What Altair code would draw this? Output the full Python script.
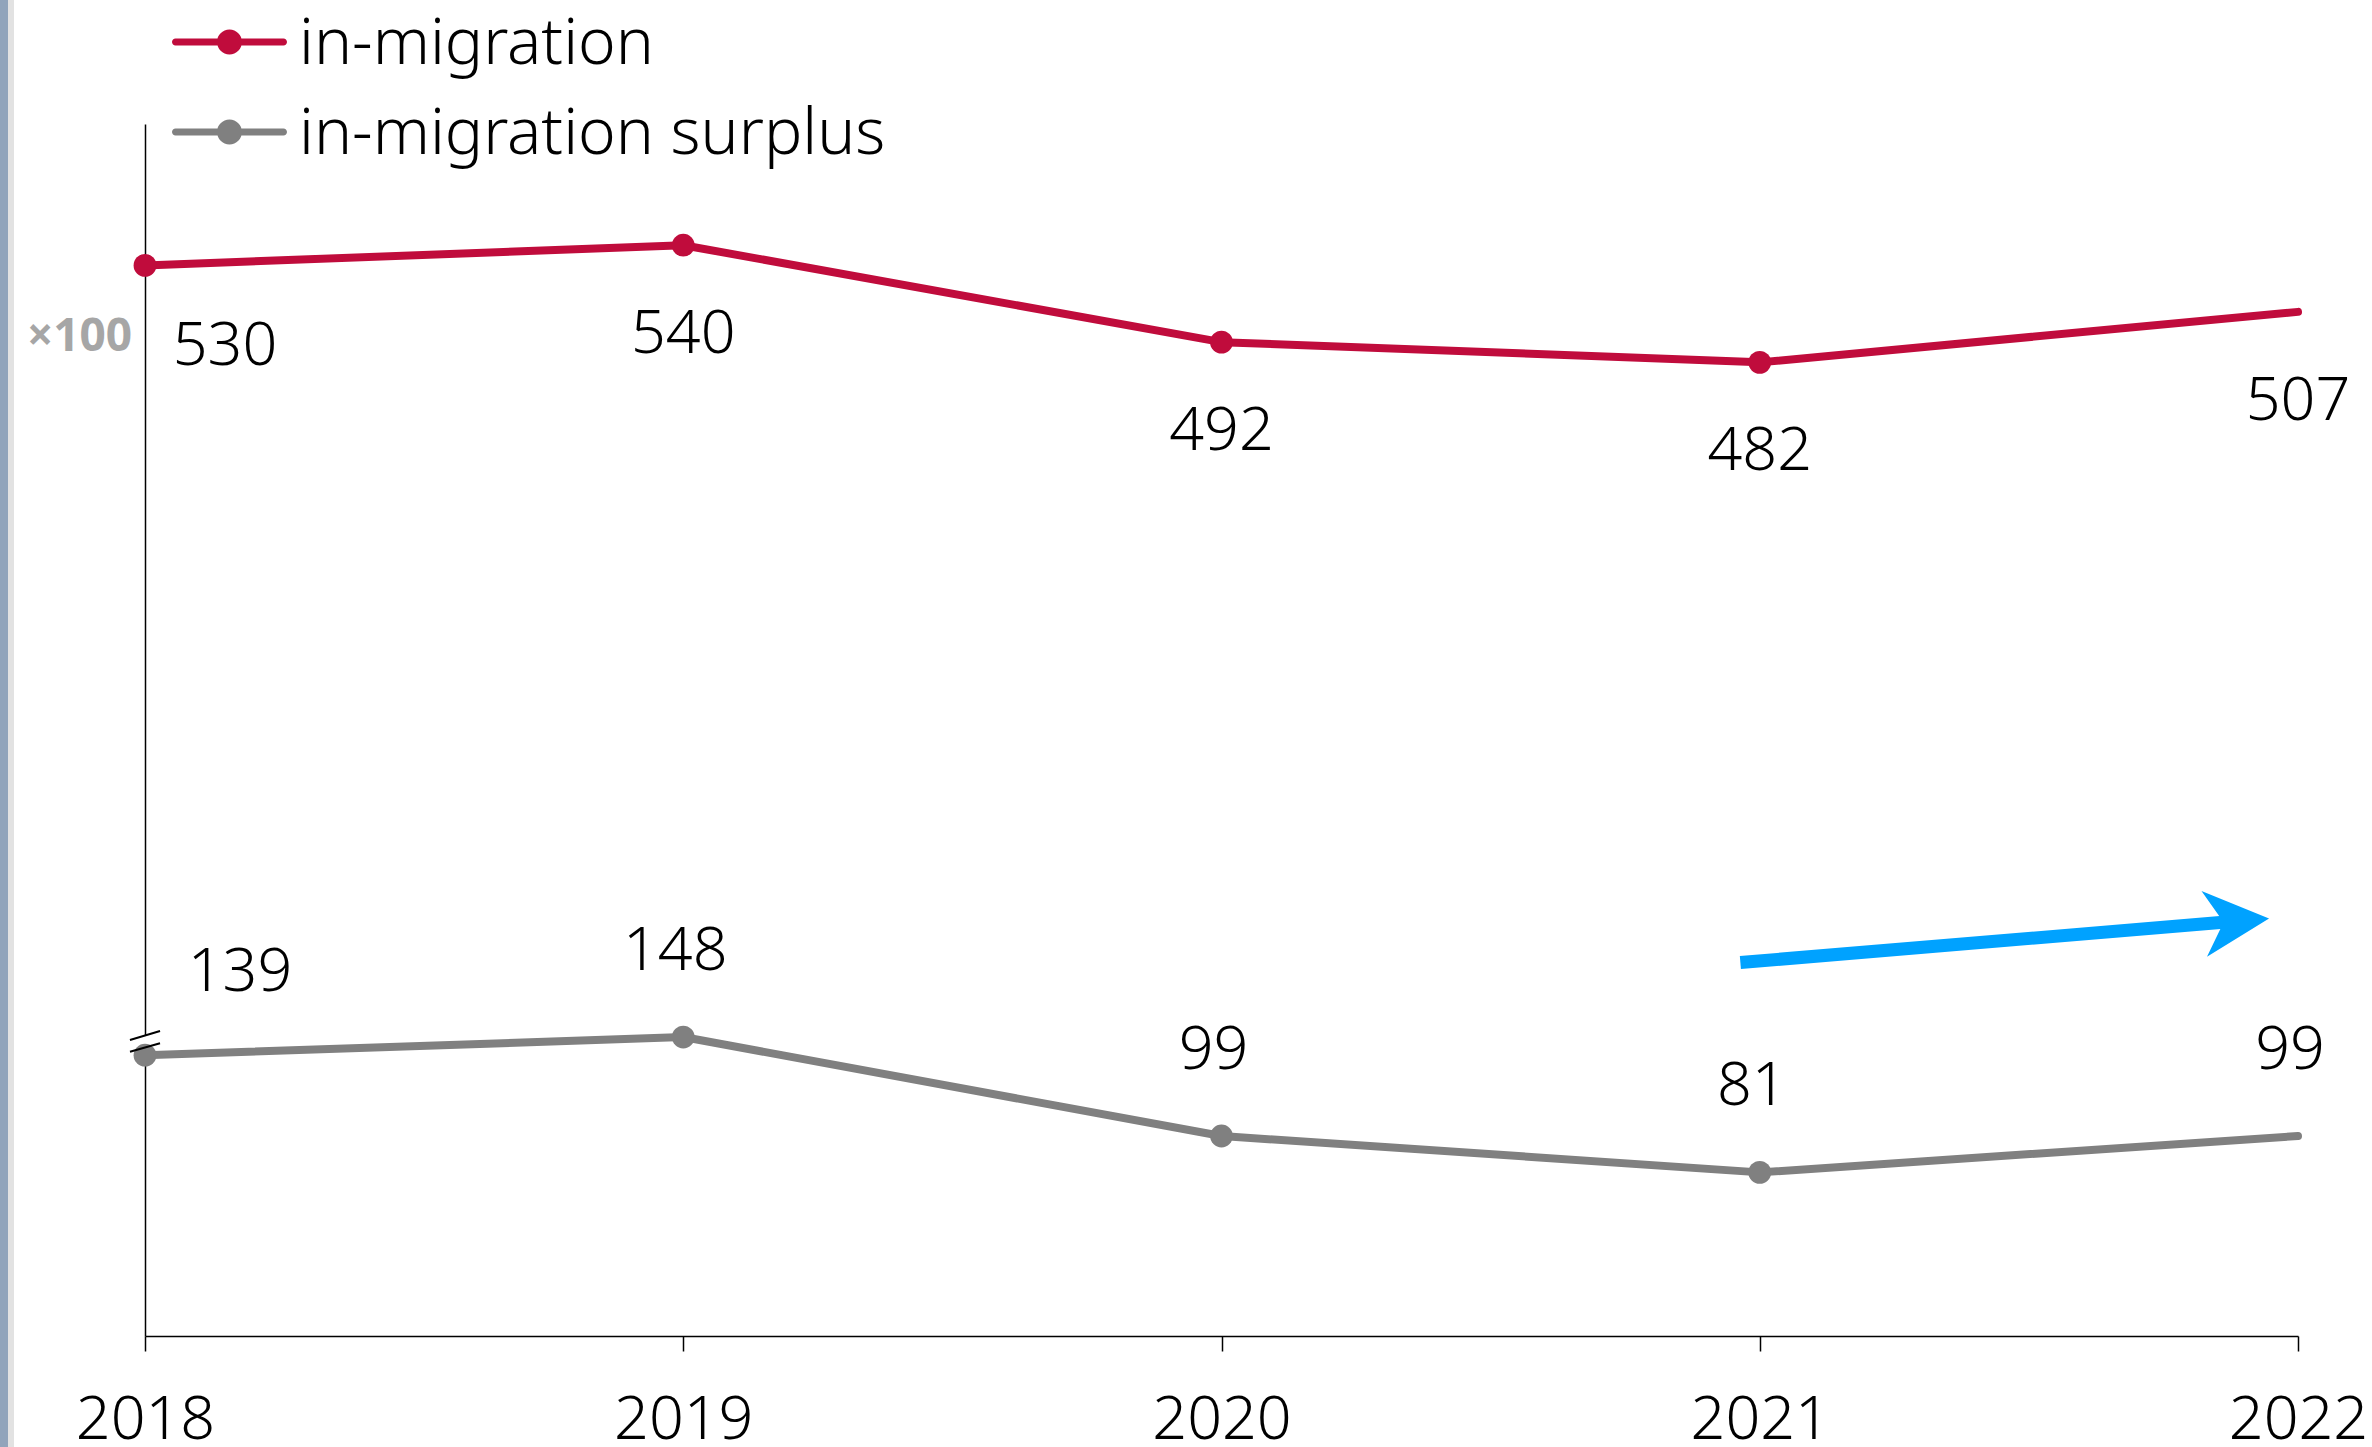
import altair as alt
import pandas as pd

# ---- data ----
years = [2018, 2019, 2020, 2021, 2022]
in_migration = [530, 540, 492, 482, 507]
in_migration_surplus = [139, 148, 99, 81, 99]
series_names = ["in-migration", "in-migration surplus"]
series_colors = ["#c00c3c", "#808080"]

# annotation (trend arrow and axis-break mark), in data coordinates
arrow_year = [2020.964, 2021.872]
arrow_value = [184.9, 205.1]
arrow_head_year = [2021.886]
arrow_head_value = [205.4]
break_year = [2018]
break_value = [145.8]

FONT = "Noto Sans"
FS = 61
FW = 300

rows = []
for s, vals in zip(series_names, [in_migration, in_migration_surplus]):
    for yr, v in zip(years, vals):
        rows.append({"year": yr, "value": v, "series": s, "label": str(v)})
df = pd.DataFrame(rows)

x_enc = alt.X(
    "year:Q",
    scale=alt.Scale(domain=[2018, 2022], nice=False, zero=False),
    axis=alt.Axis(
        values=years, format="d", title=None, grid=False,
        domainColor="black", domainWidth=1.5, tickColor="black", tickWidth=1.5,
        tickSize=15, labelFontSize=FS, labelFont=FONT, labelFontWeight=FW,
        labelColor="black", labelPadding=39, labelFlush=False,
    ),
)
y_enc = alt.Y(
    "value:Q",
    scale=alt.Scale(domain=[0, 600], nice=False, zero=True),
    axis=alt.Axis(
        ticks=False, labels=False, grid=False, domainColor="black", domainWidth=1.5,
        title="×100", titleAngle=0, titleX=-66, titleY=212, titleAlign="center",
        titleBaseline="middle", titleFontSize=46, titleFontWeight="bold",
        titleColor="#a6a6a6", titleFont=FONT,
    ),
)
color_scale = alt.Scale(domain=series_names, range=series_colors)

base = alt.Chart(df)

lines = base.mark_line(strokeWidth=8, strokeCap="round", strokeJoin="round").encode(
    x=x_enc, y=y_enc,
    color=alt.Color("series:N", scale=color_scale, legend=None),
)

points = base.transform_filter("datum.year < 2022").mark_point(
    filled=True, size=520, opacity=1
).encode(
    x=x_enc, y=y_enc,
    color=alt.Color("series:N", scale=color_scale, legend=None),
)


def labels(series, first, dx, dy):
    op = "==" if first else "!="
    return base.transform_filter(
        f"datum.series == '{series}' && datum.year {op} 2018"
    ).mark_text(
        fontSize=FS, font=FONT, fontWeight=FW, color="black", align="center",
        baseline="alphabetic", dx=dx, dy=dy,
    ).encode(x=x_enc, y=y_enc, text="label:N")


text_layers = [
    labels(series_names[0], True, 80, 100),
    labels(series_names[0], False, 0, 108),
    labels(series_names[1], True, 95, -64),
    labels(series_names[1], False, -8, -67),
]

# ---- legend (drawn as marks: line-with-marker symbol + label) ----
LEGEND_PATH = (
    "M-0.939,-0.061L0.939,-0.061A0.061,0.061,0,0,1,0.939,0.061"
    "L-0.939,0.061A0.061,0.061,0,0,1,-0.939,-0.061Z "
    "M0.217,0A0.217,0.217,0,1,1,-0.217,0A0.217,0.217,0,1,1,0.217,0Z"
)
legend_layers = []
for i, (name, col) in enumerate(zip(series_names, series_colors)):
    ldf = pd.DataFrame({"series": [name]})
    row_y = -82 + 90 * i
    legend_layers.append(
        alt.Chart(ldf).mark_point(
            filled=True, opacity=1, color=col, size=13225, shape=LEGEND_PATH,
        ).encode(x=alt.value(84.5), y=alt.value(row_y))
    )
    legend_layers.append(
        alt.Chart(ldf).mark_text(
            fontSize=64, font=FONT, fontWeight=FW, color="black", align="left",
            baseline="alphabetic",
        ).encode(x=alt.value(154), y=alt.value(row_y + 22), text="series:N")
    )

arrow_df = pd.DataFrame({"year": arrow_year, "value": arrow_value})
head_df = pd.DataFrame({"year": arrow_head_year, "value": arrow_head_value})
break_df = pd.DataFrame({"year": break_year, "value": break_value})

ARROW_COLOR = "#00a2ff"
arrow_line = alt.Chart(arrow_df).mark_line(
    color=ARROW_COLOR, strokeWidth=13, strokeCap="butt"
).encode(x=x_enc, y=y_enc)
arrow_head = alt.Chart(head_df).mark_point(
    filled=True, opacity=1, color=ARROW_COLOR, size=4900, angle=355.22,
    shape="M0.929,0L-0.929,-0.943L-0.374,0L-0.929,0.943Z",
).encode(x=x_enc, y=y_enc)

break_fill = alt.Chart(break_df).mark_point(
    filled=True, opacity=1, color="white", size=1024,
    shape="M-0.94,-0.09L0.94,-0.66L0.94,0.11L-0.94,0.64Z",
).encode(x=x_enc, y=y_enc)
break_lines = alt.Chart(break_df).mark_point(
    filled=False, opacity=1, color="black", strokeWidth=2, size=1024,
    shape="M-0.94,-0.09L0.94,-0.66M-0.94,0.64L0.94,0.11",
).encode(x=x_enc, y=y_enc)

frame_df = pd.DataFrame({"k": [0]})
frame_bar = alt.Chart(frame_df).mark_rule(color="#91a4bb", strokeWidth=8).encode(
    x=alt.value(-141), y=alt.value(-124), y2=alt.value(1323)
)
frame_shadow = alt.Chart(frame_df).mark_rule(color="#e2e2e2", strokeWidth=6).encode(
    x=alt.value(-134), y=alt.value(-124), y2=alt.value(1323)
)

chart = alt.layer(
    frame_shadow, frame_bar, break_fill, lines, points, break_lines,
    arrow_line, arrow_head, *text_layers, *legend_layers,
).properties(
    width=2153, height=1212,
    autosize=alt.AutoSizeParams(type="none"),
    padding={"left": 145, "top": 124, "right": 74, "bottom": 111},
    background="white",
).configure_view(stroke=None)

chart.save("out.html", embed_options={"renderer": "svg", "actions": False})
